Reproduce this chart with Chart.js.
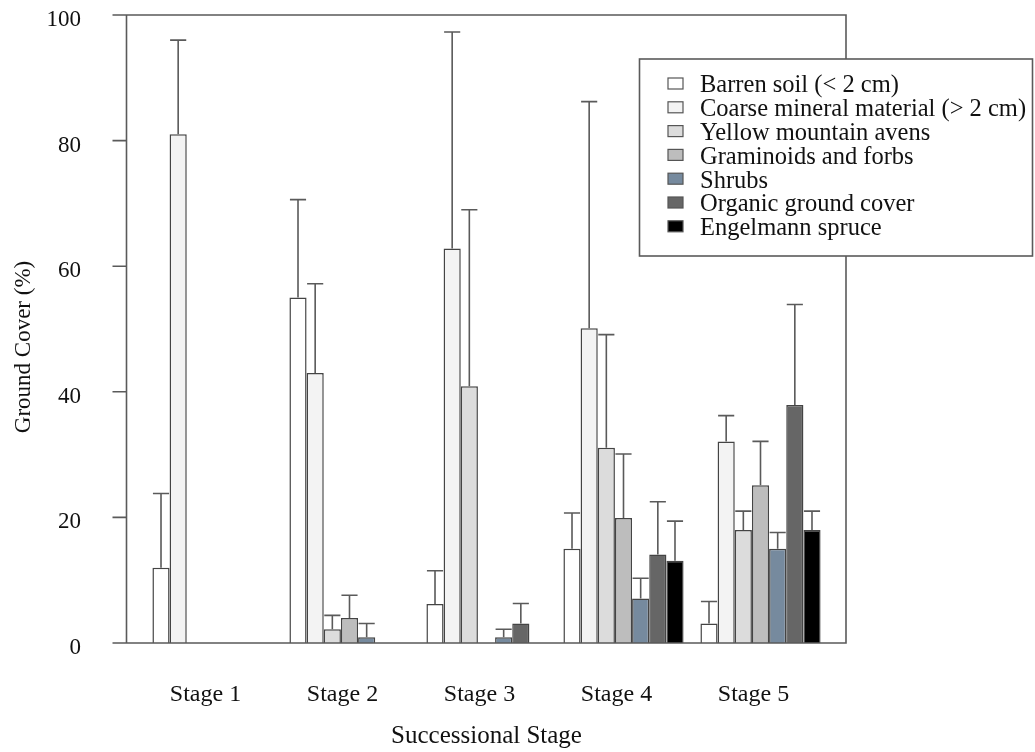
<!DOCTYPE html>
<html>
<head>
<meta charset="utf-8">
<script src="https://cdn.jsdelivr.net/npm/chart.js@4.4.0/dist/chart.umd.min.js"></script>
<style>
  html, body { margin: 0; padding: 0; background: #fff; }
  #wrap { width: 1035px; height: 752px; }
</style>
</head>
<body>
<div id="wrap"><canvas id="coverChart"></canvas></div>
<script>
// data (mean cover % and upper error bar length)
const stages = ['Stage 1', 'Stage 2', 'Stage 3', 'Stage 4', 'Stage 5'];
const coverTypes = [
    'Barren soil (< 2 cm)',
    'Coarse mineral material (> 2 cm)',
    'Yellow mountain avens',
    'Graminoids and forbs',
    'Shrubs',
    'Organic ground cover',
    'Engelmann spruce'
];
const barren   = [12, 55, 6.2, 15, 3.1];
const coarse   = [81, 43, 62.8, 50.1, 32.1];
const avens    = [null, 2.2, 40.9, 31.1, 18];
const graminoids = [null, 4, null, 19.9, 25.1];
const shrubs   = [null, 0.9, 0.9, 7.1, 15];
const organic  = [null, null, 3.1, 14.1, 37.9];
const spruce   = [null, null, null, 13.1, 18];

const barrenErr   = [11.8, 15.6, 5.3, 5.7, 3.5];
const coarseErr   = [15, 14.2, 34.5, 36.1, 4.1];
const avensErr    = [null, 2.2, 28.1, 18, 3];
const graminoidsErr = [null, 3.6, null, 10.2, 7];
const shrubsErr   = [null, 2.2, 1.3, 3.2, 2.6];
const organicErr  = [null, null, 3.2, 8.4, 16];
const spruceErr   = [null, null, null, 6.3, 3];

const yTicks = [0, 20, 40, 60, 80, 100];

const fills = ['#ffffff', '#f3f3f3', '#dcdcdc', '#bdbdbd', '#768a9e', '#666666', '#000000'];
const seriesValues = [barren, coarse, avens, graminoids, shrubs, organic, spruce];
const seriesErrors = [barrenErr, coarseErr, avensErr, graminoidsErr, shrubsErr, organicErr, spruceErr];

const serif = '"Liberation Serif", "Times New Roman", serif';
const lineColor = '#5a5a5a';

// axis frame: y axis line sits a bit left of the first category, box closes on the right
const framePlugin = {
    id: 'frame',
    afterDatasetsDraw(chart) {
        const { ctx, chartArea } = chart;
        const y = chart.scales.y;
        const axisX = chartArea.left - 17.5;
        const tickX = axisX - 14;
        const rightX = chartArea.right + 17;
        ctx.save();
        ctx.strokeStyle = lineColor;
        ctx.lineWidth = 1.6;
        ctx.beginPath();
        ctx.moveTo(tickX, chartArea.top); ctx.lineTo(rightX, chartArea.top);
        ctx.lineTo(rightX, chartArea.bottom); ctx.lineTo(tickX, chartArea.bottom);
        ctx.moveTo(axisX, chartArea.top); ctx.lineTo(axisX, chartArea.bottom);
        yTicks.forEach(t => {
            const py = y.getPixelForValue(t);
            ctx.moveTo(tickX, py); ctx.lineTo(axisX, py);
        });
        ctx.stroke();

        // y axis title
        ctx.fillStyle = '#111';
        ctx.font = '23px ' + serif;
        ctx.textAlign = 'center';
        ctx.textBaseline = 'middle';
        ctx.translate(24, (chartArea.top + chartArea.bottom) / 2 + 18);
        ctx.rotate(-Math.PI / 2);
        ctx.fillText('Ground Cover (%)', 0, 0);
        ctx.restore();
    }
};

// upper error bars only
const errorBarPlugin = {
    id: 'errorBars',
    afterDatasetsDraw(chart) {
        const ctx = chart.ctx;
        const y = chart.scales.y;
        ctx.save();
        ctx.strokeStyle = lineColor;
        ctx.lineWidth = 1.6;
        chart.data.datasets.forEach((ds, i) => {
            const meta = chart.getDatasetMeta(i);
            meta.data.forEach((bar, j) => {
                const v = ds.data[j];
                const e = ds.errors[j];
                if (v == null || e == null) return;
                const top = y.getPixelForValue(v + e);
                const half = bar.width * 0.47;
                ctx.beginPath();
                ctx.moveTo(bar.x, bar.y);
                ctx.lineTo(bar.x, top);
                ctx.moveTo(bar.x - half, top);
                ctx.lineTo(bar.x + half, top);
                ctx.stroke();
            });
        });
        ctx.restore();
    }
};

// boxed legend at the upper right, overlapping the frame
const legendPlugin = {
    id: 'boxLegend',
    afterDraw(chart) {
        const ctx = chart.ctx;
        const box = { x: 639.5, y: 59, w: 393, h: 197 };
        ctx.save();
        ctx.fillStyle = '#fff';
        ctx.fillRect(box.x, box.y, box.w, box.h);
        ctx.strokeStyle = lineColor;
        ctx.lineWidth = 1.6;
        ctx.strokeRect(box.x, box.y, box.w, box.h);
        ctx.font = '24.5px ' + serif;
        ctx.textAlign = 'left';
        ctx.textBaseline = 'middle';
        chart.data.datasets.forEach((ds, i) => {
            const rowY = 86 + i * 23.8;
            ctx.fillStyle = ds.backgroundColor;
            ctx.fillRect(668, rowY - 8, 15, 11);
            ctx.strokeStyle = '#555';
            ctx.lineWidth = 1.2;
            ctx.strokeRect(668, rowY - 8, 15, 11);
            ctx.fillStyle = '#111';
            ctx.fillText(ds.label, 700, rowY);
        });
        ctx.restore();
    }
};

document.addEventListener('DOMContentLoaded', function() {
    const ctx = document.getElementById('coverChart').getContext('2d');
    new Chart(ctx, {
        type: 'bar',
        data: {
            labels: stages,
            datasets: coverTypes.map((name, i) => ({
                label: name,
                data: seriesValues[i],
                errors: seriesErrors[i],
                backgroundColor: fills[i],
                borderColor: '#444',
                borderWidth: 1.5,
                categoryPercentage: 0.877,
                barPercentage: 1.0
            }))
        },
        options: {
            responsive: true,
            maintainAspectRatio: false,
            animation: false,
            devicePixelRatio: 1,
            layout: {
                padding: { left: 0, right: 206, top: 15, bottom: 0 }
            },
            plugins: {
                legend: { display: false },
                tooltip: { enabled: false }
            },
            scales: {
                x: {
                    offset: true,
                    grid: { display: false, drawTicks: false },
                    border: { display: false },
                    ticks: {
                        color: '#111',
                        font: { family: serif, size: 24 },
                        padding: 37,
                        labelOffset: -7
                    },
                    title: {
                        display: true,
                        text: 'Successional Stage',
                        color: '#111',
                        font: { family: serif, size: 25 },
                        padding: { top: 0, bottom: 1 }
                    },
                    afterFit: function(scale) { scale.height = 109; }
                },
                y: {
                    min: 0,
                    max: 100,
                    // tick marks are drawn by the frame plugin; tickLength only spaces the labels
                    grid: { display: false, drawTicks: true, tickLength: 63 },
                    border: { display: false },
                    ticks: {
                        stepSize: 20,
                        color: '#111',
                        font: { family: serif, size: 23 },
                        padding: 0,
                        labelOffset: 5
                    },
                    afterFit: function(scale) { scale.width = 144; }
                }
            }
        },
        plugins: [framePlugin, errorBarPlugin, legendPlugin]
    });
});
</script>
</body>
</html>
